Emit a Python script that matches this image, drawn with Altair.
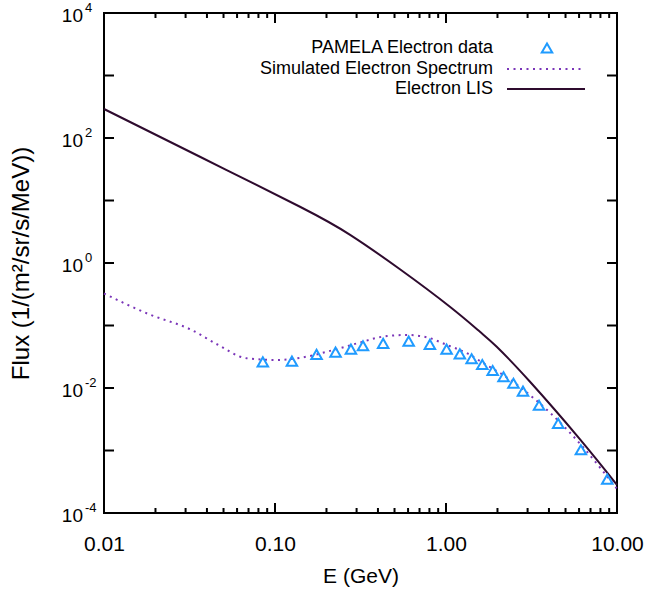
import altair as alt
import pandas as pd

# ---- data ----
lis_e = [0.01, 0.0364, 0.14, 0.275, 0.538, 1.054, 1.58, 1.98, 3.10, 6.08, 10.0]
lis_flux = [291, 50.1, 7.94, 2.82, 0.794, 0.1995, 0.0794, 0.0457, 0.0126, 0.00151, 0.000282]

sim_e = [0.01, 0.01816, 0.0326, 0.0466, 0.0682, 0.102, 0.140, 0.220, 0.302, 0.452,
         0.592, 0.774, 1.014, 1.334, 1.667, 2.089, 2.618, 3.273, 4.111, 5.152,
         6.442, 8.054, 10.0]
sim_flux = [0.325, 0.153, 0.0847, 0.0488, 0.0299, 0.0281, 0.0304, 0.0406, 0.0518, 0.0679,
            0.0705, 0.0646, 0.0488, 0.0358, 0.0247, 0.0171, 0.0111, 0.00679, 0.00389, 0.00210,
            0.00107, 0.000512, 0.000244]

pam_e = [0.0849, 0.1256, 0.175, 0.226, 0.278, 0.327, 0.429, 0.605, 0.805, 1.008,
         1.205, 1.412, 1.63, 1.875, 2.17, 2.48, 2.82, 3.50, 4.53, 6.15, 8.77]
pam_flux = [0.0262, 0.0269, 0.0345, 0.0375, 0.0419, 0.0473, 0.0517, 0.0563, 0.0499, 0.0419,
            0.0352, 0.0293, 0.0238, 0.0191, 0.0151, 0.0119, 0.0089, 0.0053, 0.00272, 0.00103,
            0.000348]

x_tick_vals = [0.01, 0.1, 1, 10]
x_tick_labels = ["0.01", "0.10", "1.00", "10.00"]
x_tick_exps = [-2, -1, 0, 1]
x_minor = [m * d for d in [0.01, 0.1, 1] for m in range(2, 10)]

y_tick_vals = [1e-4, 1e-2, 1, 1e2, 1e4]
y_tick_base = ["10", "10", "10", "10", "10"]
y_tick_exp = ["-4", "-2", "0", "2", "4"]
y_decades = [1e-3, 1e-2, 1e-1, 1, 1e1, 1e2, 1e3]

legend_labels = ["PAMELA Electron data", "Simulated Electron Spectrum", "Electron LIS"]

# ---- styling ----
W, H = 513, 500
FONT = "Liberation Sans"
C_LIS = "#2e0b2e"
C_SIM = "#7a35b8"
C_PAM = "#1f9bff"
XMIN, XMAX, YMIN, YMAX = 0.01, 10.0, 1e-4, 1e4
PX_DEC_X = W / 3.0
PX_DEC_Y = H / 8.0


def label_expr(exps, labels):
    expr = "''"
    for e, l in reversed(list(zip(exps, labels))):
        expr = f"round(log(datum.value)/LN10)=={e} ? '{l}' : ({expr})"
    return expr


def ylen(px):
    return 10 ** (px / PX_DEC_Y)


def xlen(px):
    return 10 ** (px / PX_DEC_X)


xs = alt.Scale(type="log", domain=[XMIN, XMAX], nice=False, padding=0)
ys = alt.Scale(type="log", domain=[YMIN, YMAX], nice=False, padding=0)

lis_df = pd.DataFrame({"E": lis_e, "F": lis_flux})
sim_df = pd.DataFrame({"E": sim_e, "F": sim_flux})
pam_df = pd.DataFrame({"E": pam_e, "F": pam_flux})

lis = alt.Chart(lis_df).mark_line(color=C_LIS, strokeWidth=2, interpolate="natural").encode(
    x=alt.X("E:Q", scale=xs, axis=alt.Axis(
        title="E (GeV)", values=x_tick_vals, labelExpr=label_expr(x_tick_exps, x_tick_labels),
        labelFlush=False, labelPadding=20, titlePadding=11)),
    y=alt.Y("F:Q", scale=ys, axis=alt.Axis(
        title="Flux  (1/(m\u00b2/sr/s/MeV))", values=y_tick_vals, labels=False,
        titlePadding=71, titleFontSize=24)),
)

sim = alt.Chart(sim_df).mark_line(color=C_SIM, strokeWidth=2, strokeDash=[2, 4.5],
                                  strokeCap="butt", interpolate="monotone").encode(
    x=alt.X("E:Q", scale=xs), y=alt.Y("F:Q", scale=ys))

pam = alt.Chart(pam_df).mark_point(shape="triangle-up", size=110, filled=False,
                                   color=C_PAM, strokeWidth=2, opacity=1).encode(
    x=alt.X("E:Q", scale=xs), y=alt.Y("F:Q", scale=ys))

# y tick labels: "10" with raised exponent
ylab_df = pd.DataFrame({"F": y_tick_vals, "base": y_tick_base, "exp": y_tick_exp})
ylab_base = alt.Chart(ylab_df).mark_text(align="right", baseline="middle", font=FONT,
                                         fontSize=19, color="black", dy=3).encode(
    y=alt.Y("F:Q", scale=ys), x=alt.value(-21), text="base:N")
ylab_exp = alt.Chart(ylab_df).mark_text(align="left", baseline="middle", font=FONT,
                                        fontSize=13, color="black", dy=-5).encode(
    y=alt.Y("F:Q", scale=ys), x=alt.value(-19), text="exp:N")

# inward ticks on all four sides: each tick is a two-point line segment
tick_rows = []
seg = 0


def add_seg(e0, f0, e1, f1):
    global seg
    tick_rows.append({"seg": seg, "E": e0, "F": f0})
    tick_rows.append({"seg": seg, "E": e1, "F": f1})
    seg += 1


for e in x_tick_vals[1:-1]:
    add_seg(e, YMIN, e, YMIN * ylen(10))
    add_seg(e, YMAX / ylen(10), e, YMAX)
for e in x_minor:
    add_seg(e, YMIN, e, YMIN * ylen(5))
    add_seg(e, YMAX / ylen(5), e, YMAX)
for f in y_decades:
    add_seg(XMIN, f, XMIN * xlen(10), f)
    add_seg(XMAX / xlen(10), f, XMAX, f)
ticks_df = pd.DataFrame(tick_rows)
ticks = alt.Chart(ticks_df).mark_line(color="black", strokeWidth=2).encode(
    x=alt.X("E:Q", scale=xs), y=alt.Y("F:Q", scale=ys), detail="seg:N")

# legend (labels left of symbols, right aligned)
leg_rows_y = [35, 56, 76]
leg_text_x = 389
leg_layers = []
for lab, yy in zip(legend_labels, leg_rows_y):
    leg_layers.append(alt.Chart(pd.DataFrame({"label": [lab]})).mark_text(
        align="right", baseline="middle", font=FONT, fontSize=18, color="black").encode(
        text="label:N", x=alt.value(leg_text_x), y=alt.value(yy)))
leg_layers.append(alt.Chart(pd.DataFrame({"k": [1]})).mark_point(
    shape="triangle-up", size=110, filled=False, color=C_PAM, strokeWidth=2, opacity=1).encode(
    x=alt.value(443), y=alt.value(leg_rows_y[0])))
leg_layers.append(alt.Chart(pd.DataFrame({"k": [2]})).mark_rule(
    color=C_SIM, strokeWidth=2, strokeDash=[2, 4.5], strokeCap="butt").encode(
    x=alt.value(403), x2=alt.value(481), y=alt.value(leg_rows_y[1])))
leg_layers.append(alt.Chart(pd.DataFrame({"k": [3]})).mark_rule(
    color=C_LIS, strokeWidth=2).encode(
    x=alt.value(403), x2=alt.value(481), y=alt.value(leg_rows_y[2])))

chart = alt.layer(lis, sim, pam, ticks, ylab_base, ylab_exp, *leg_layers).properties(
    width=W, height=H,
    autosize=alt.AutoSizeParams(type="none"),
    padding={"left": 104, "top": 13, "right": 32, "bottom": 84},
    background="white",
).configure_view(
    stroke="black", strokeWidth=2
).configure_axis(
    domain=False, ticks=False, grid=False,
    labelFont=FONT, labelFontSize=21, labelColor="black",
    titleFont=FONT, titleFontSize=21, titleFontWeight="normal", titleColor="black",
)

chart.save("out.html", embed_options={"renderer": "svg", "actions": False})
